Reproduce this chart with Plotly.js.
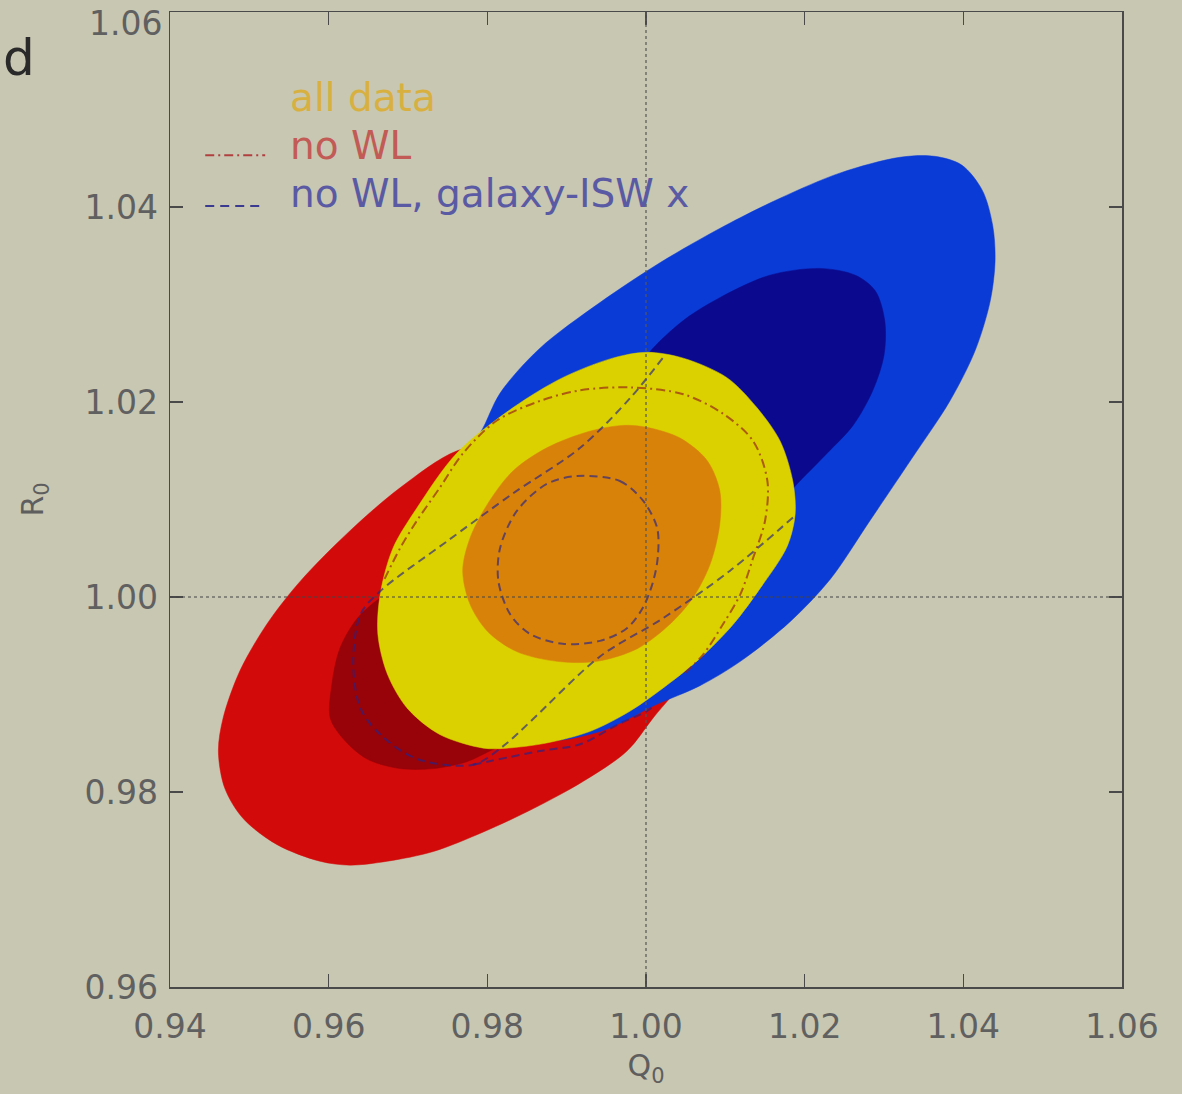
<!DOCTYPE html>
<html>
<head>
<meta charset="utf-8">
<script src="https://cdn.plot.ly/plotly-3.0.1.min.js"></script>
<style>
  html, body { margin: 0; padding: 0; background: #c8c7b2; }
  #chart { width: 1182px; height: 1094px; }
</style>
</head>
<body>
<div id="chart"></div>
<script>
// ---- tick values and labels ----
const qTicks = [0.94, 0.96, 0.98, 1.00, 1.02, 1.04, 1.06];
const rTicks = [0.96, 0.98, 1.00, 1.02, 1.04, 1.06];
const rTickText = ['0.96', '0.98', '1.00', '1.02', '1.04', ''];   // top label drawn below the frame edge
const rTopLabel = '1.06';

// ---- filled contours (Q0, R0 points) ----
const redOuterQ = [0.9762,0.9690,0.9627,0.9564,0.9522,0.9488,0.9467,0.9461,0.9469,0.9492,0.9535,0.9589,0.9627,0.9674,0.9732,0.9795,0.9858,0.9921,0.9976,1.0009,1.0056,1.0087,1.0093,1.0068,1.0005,0.9917,0.9841];
const redOuterR = [1.0150,1.0112,1.0068,1.0016,0.9972,0.9924,0.9876,0.9842,0.9804,0.9773,0.9746,0.9729,0.9725,0.9729,0.9739,0.9759,0.9783,0.9811,0.9842,0.9876,0.9924,0.9985,1.0047,1.0099,1.0140,1.0160,1.0160];

const redInnerQ = [0.9665,0.9636,0.9614,0.9604,0.9602,0.9618,0.9648,0.9690,0.9732,0.9774,0.9803,0.9854,0.9904,0.9929,0.9917,0.9866,0.9791,0.9715];
const redInnerR = [0.9999,0.9978,0.9947,0.9910,0.9876,0.9855,0.9834,0.9824,0.9824,0.9831,0.9842,0.9862,0.9903,0.9955,1.0006,1.0037,1.0037,1.0021];

const blueOuterQ = [0.9791,0.9816,0.9866,0.9942,1.0018,1.0093,1.0169,1.0245,1.0320,1.0364,1.0398,1.0424,1.0437,1.0440,1.0434,1.0415,1.0383,1.0335,1.0282,1.0232,1.0182,1.0119,1.0068,1.0011,0.9942,0.9866,0.9791,0.9740,0.9728,0.9747];
const blueOuterR = [1.0168,1.0209,1.0255,1.0302,1.0343,1.0378,1.0409,1.0435,1.0451,1.0452,1.0443,1.0417,1.0381,1.0345,1.0304,1.0253,1.0201,1.0142,1.0078,1.0018,0.9975,0.9934,0.9909,0.9889,0.9862,0.9854,0.9893,0.9975,1.0057,1.0119];

const blueInnerQ = [0.9992,1.0043,1.0093,1.0156,1.0219,1.0264,1.0289,1.0301,1.0300,1.0286,1.0261,1.0229,1.0194,1.0163,1.0119,1.0056,0.9999,0.9974];
const blueInnerR = [1.0237,1.0281,1.0307,1.0330,1.0337,1.0330,1.0314,1.0283,1.0248,1.0212,1.0176,1.0148,1.0119,1.0093,1.0078,1.0083,1.0137,1.0181];

const yellowQ = [1.0001,1.0047,1.0102,1.0140,1.0169,1.0185,1.0188,1.0178,1.0144,1.0110,1.0068,1.0027,0.9980,0.9929,0.9873,0.9825,0.9795,0.9740,0.9699,0.9674,0.9662,0.9665,0.9681,0.9711,0.9762,0.9832,0.9895,0.9958];
const yellowR = [1.0251,1.0245,1.0225,1.0194,1.0160,1.0119,1.0085,1.0052,1.0009,0.9972,0.9937,0.9910,0.9883,0.9862,0.9850,0.9845,0.9845,0.9859,0.9886,0.9921,0.9962,1.0003,1.0050,1.0091,1.0148,1.0194,1.0225,1.0245];

const orangeQ = [1.0001,1.0043,1.0077,1.0093,1.0093,1.0081,1.0059,1.0030,0.9989,0.9938,0.9888,0.9837,0.9800,0.9778,0.9769,0.9778,0.9800,0.9832,0.9875,0.9929,0.9971];
const orangeR = [1.0174,1.0163,1.0140,1.0109,1.0075,1.0034,0.9999,0.9972,0.9947,0.9934,0.9934,0.9944,0.9965,0.9993,1.0027,1.0060,1.0095,1.0129,1.0153,1.0170,1.0176];

// ---- line contours (visible parts) ----
// "no WL" (red dash-dot)
const noWLQ = [1.0049,1.0072,1.0097,1.0119,1.0135,1.0150,1.0153,1.0135,1.0097,1.0047,0.9980,0.9917,0.9866,0.9812,0.9769,0.9740,0.9711,0.9690,0.9669];
const noWLR = [0.9922,0.9941,0.9972,1.0003,1.0040,1.0078,1.0119,1.0160,1.0188,1.0208,1.0215,1.0212,1.0201,1.0181,1.0147,1.0112,1.0078,1.0050,1.0016];

// "no WL, galaxy-ISW x" (blue dashed) : inner contour
const iswInnerQ = [0.9913,0.9967,0.9996,1.0014,1.0015,1.0009,0.9996,0.9976,0.9942,0.9895,0.9854,0.9829,0.9814,0.9816,0.9837,0.9875];
const iswInnerR = [1.0124,1.0119,1.0099,1.0071,1.0042,1.0016,0.9989,0.9968,0.9955,0.9952,0.9962,0.9982,1.0016,1.0050,1.0088,1.0116];

// "no WL, galaxy-ISW x" (blue dashed) : outer contour
const iswOuterQ = [1.0021,0.9980,0.9917,0.9832,0.9749,0.9665,0.9640,0.9631,0.9640,0.9665,0.9711,0.9782,0.9820,0.9854,0.9942,1.0021,1.0106,1.0190];
const iswOuterR = [1.0245,1.0204,1.0153,1.0106,1.0057,1.0006,0.9982,0.9931,0.9886,0.9859,0.9834,0.9828,0.9847,0.9872,0.9939,0.9978,1.0027,1.0085];

// "no WL, galaxy-ISW x" (blue dashed) : lower arc
const iswArcQ = [0.9782,0.9866,0.9917,0.9964,1.0001,1.0011];
const iswArcR = [0.9828,0.9842,0.9849,0.9869,0.9883,0.9889];

// ---- legend labels ----
const legendLabels = ['all data', 'no WL', 'no WL, galaxy-ISW x'];
const legendColors = ['#d8b040', '#c25a55', '#5a5aa4'];

// ---- build traces ----
function closed(a) { return a.concat([a[0]]); }

function filled(q, r, color) {
  return {
    type: 'scatter', mode: 'lines',
    x: closed(q), y: closed(r),
    fill: 'toself', fillcolor: color,
    line: { color: color, width: 0.5, shape: 'spline', smoothing: 0.9 },
    hoverinfo: 'skip', showlegend: false
  };
}
function outline(q, r, color, dash, close) {
  return {
    type: 'scatter', mode: 'lines',
    x: close ? closed(q) : q, y: close ? closed(r) : r,
    line: { color: color, width: 2, dash: dash, shape: 'spline', smoothing: 0.9 },
    hoverinfo: 'skip', showlegend: false
  };
}

const redLine = 'rgba(150,35,20,0.68)';
const blueLine = 'rgba(35,35,140,0.65)';

const traces = [
  filled(redOuterQ, redOuterR, '#d20a0a'),
  filled(redInnerQ, redInnerR, '#970309'),
  filled(blueOuterQ, blueOuterR, '#0b3bd6'),
  filled(blueInnerQ, blueInnerR, '#0b0a8e'),
  filled(yellowQ, yellowR, '#dbd000'),
  filled(orangeQ, orangeR, '#d9820a'),
  outline(noWLQ, noWLR, redLine, '9px,4px,2px,4px', false),
  outline(iswInnerQ, iswInnerR, blueLine, '8px,5px', true),
  outline(iswOuterQ, iswOuterR, blueLine, '8px,5px', false),
  outline(iswArcQ, iswArcR, blueLine, '8px,5px', false)
];

const tickFont = { family: 'DejaVu Sans, sans-serif', size: 33, color: '#606060' };

const axisCommon = {
  showgrid: false, zeroline: false,
  showline: true, linecolor: '#4a4a4a', linewidth: 1.5,
  mirror: 'ticks', ticks: 'inside', ticklen: 13, tickwidth: 1.2, tickcolor: '#4a4a4a',
  tickfont: tickFont
};

const annotations = legendLabels.map((t, i) => ({
  xref: 'paper', yref: 'paper',
  x: 0.124, y: [0.9126, 0.8633, 0.8140][i],
  xanchor: 'left', yanchor: 'middle',
  text: t, showarrow: false,
  font: { family: 'DejaVu Sans, sans-serif', size: 39, color: legendColors[i] }
}));
annotations.push({
  xref: 'paper', yref: 'paper', x: -0.178, y: 0.953,
  xanchor: 'left', yanchor: 'middle', text: 'd', showarrow: false,
  font: { family: 'DejaVu Sans, sans-serif', size: 50, color: '#2a2a2a' }
});
annotations.push({
  xref: 'paper', yref: 'y', x: 0, y: rTicks[rTicks.length - 1],
  xanchor: 'right', yanchor: 'middle', xshift: -6, yshift: -11,
  text: rTopLabel, showarrow: false, font: tickFont
});

const shapes = [
  { type: 'line', xref: 'x', yref: 'paper', x0: 1.00, x1: 1.00, y0: 0, y1: 1,
    line: { color: '#555', width: 1.2, dash: 'dot' }, layer: 'above' },
  { type: 'line', xref: 'paper', yref: 'y', x0: 0, x1: 1, y0: 1.00, y1: 1.00,
    line: { color: '#444', width: 1.2, dash: 'dot' }, layer: 'above' },
  // legend line samples
  { type: 'line', xref: 'paper', yref: 'paper', x0: 0.037, x1: 0.100, y0: 0.853, y1: 0.853,
    line: { color: '#b04040', width: 2, dash: '9px,4px,2px,4px' } },
  { type: 'line', xref: 'paper', yref: 'paper', x0: 0.037, x1: 0.100, y0: 0.801, y1: 0.801,
    line: { color: '#3a3a90', width: 2, dash: '9px,6px' } }
];

const layout = {
  width: 1182, height: 1094,
  paper_bgcolor: '#c8c7b2', plot_bgcolor: '#c8c7b2',
  margin: { l: 170, r: 60, t: 12, b: 107 },
  showlegend: false,
  xaxis: Object.assign({}, axisCommon, {
    range: [0.94, 1.06], tickvals: qTicks, tickformat: '.2f', ticklabelstandoff: 10,
    title: { text: 'Q<sub>0</sub>', standoff: 10,
             font: { family: 'DejaVu Sans, sans-serif', size: 30, color: '#5e5e5e' } }
  }),
  yaxis: Object.assign({}, axisCommon, {
    range: [0.96, 1.06], tickvals: rTicks, ticktext: rTickText, ticklabelstandoff: 4,
    title: { text: 'R<sub>0</sub>', standoff: 32,
             font: { family: 'DejaVu Sans, sans-serif', size: 30, color: '#5e5e5e' } }
  }),
  annotations: annotations,
  shapes: shapes
};

Plotly.newPlot('chart', traces, layout, { displayModeBar: false, staticPlot: true });
</script>
</body>
</html>
